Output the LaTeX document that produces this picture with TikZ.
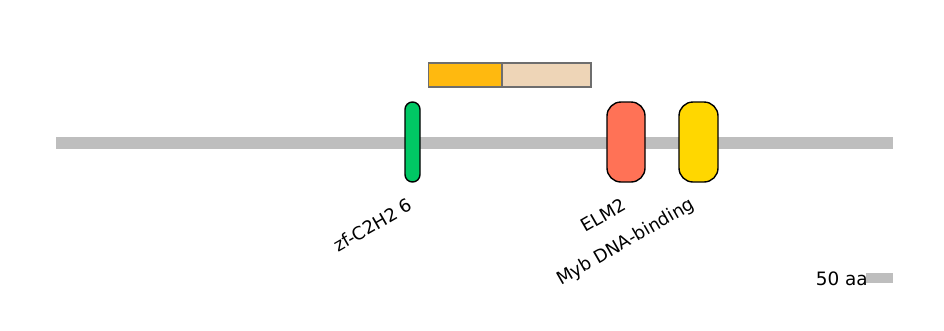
\documentclass[tikz,border=0pt]{standalone}
\usepackage{fontspec}
\setmainfont{DejaVu Sans}
\definecolor{backbonegray}{HTML}{BEBEBE}
\definecolor{zfgreen}{HTML}{00C864}
\definecolor{elmcoral}{HTML}{FF7256}
\definecolor{mybgold}{HTML}{FFD700}
\definecolor{regorange}{HTML}{FFB90F}
\definecolor{regbeige}{HTML}{EED5B7}
\definecolor{regedge}{HTML}{6E6E6E}
\tikzset{
  dombox/.style={draw=black, line width=1.4bp, minimum height=80bp, inner sep=0pt},
  regbox/.style={draw=regedge, line width=1.4bp, minimum height=24bp, inner sep=0pt, anchor=west},
  dlabel/.style={font=\fontsize{18}{20}\selectfont, inner sep=0pt, anchor=north east, rotate=30},
}
\begin{document}
\begin{tikzpicture}[x=1bp, y=-1bp]
  \useasboundingbox (0,0) rectangle (944,330);

  % Белковая цепь
  \fill[backbonegray] (56,137) rectangle (893,149);

  % Области сверху
  \node[regbox, fill=regorange, minimum width=73bp] (regA) at (427.5,75) {};
  \node[regbox, fill=regbeige, minimum width=88.5bp] (regB) at (regA.east) {};

  % Домены
  \node[dombox, fill=zfgreen, minimum width=15bp, rounded corners=7.5bp] (zf) at (412.5,142) {};
  \node[dombox, fill=elmcoral, minimum width=38bp, rounded corners=14bp] (elm) at (626,142) {};
  \node[dombox, fill=mybgold, minimum width=39bp, rounded corners=14bp] (myb) at (698.5,142) {};

  % Подписи доменов
  \node[dlabel] (zflab) at (407,197) {zf-C2H2 6};
  \node[dlabel] (elmlab) at (621,197) {ELM2};
  \node[dlabel] (myblab) at (689,196) {Myb DNA-binding};

  % Масштаб
  \node[font=\fontsize{18.5}{20}\selectfont, inner sep=0pt, anchor=base east] (scalelab) at (868,285) {50 aa};
  \fill[backbonegray] (866,273) rectangle (893,283);
\end{tikzpicture}
\end{document}
